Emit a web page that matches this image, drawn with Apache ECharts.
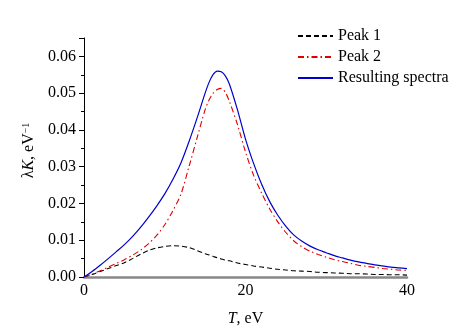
<!DOCTYPE html>
<html>
<head>
<meta charset="utf-8">
<script src="https://cdn.jsdelivr.net/npm/echarts@6/dist/echarts.min.js"></script>
<style>
  html, body { margin: 0; padding: 0; background: #fff; }
  #chart { width: 473px; height: 332px; }
</style>
</head>
<body>
<div id="chart"></div>
<script>
// T, eV
const energy = [0, 1, 2, 3, 4, 5, 6, 7, 8, 9, 10, 11, 12, 13, 14, 15, 15.5, 16, 16.5, 17, 17.5, 18, 19, 20,
  21, 22, 23, 24, 25, 26, 27, 28, 29, 30, 31, 32, 33, 34, 35, 36, 37, 38, 39, 40];
const peak1 = [0, 0.0007, 0.0015, 0.0023, 0.0031, 0.0039, 0.0050, 0.0062, 0.0072, 0.0079, 0.0083,
  0.0085, 0.0084, 0.0080, 0.0072, 0.0063, 0.0060, 0.0056, 0.0052, 0.0049, 0.0046, 0.0044, 0.0038, 0.0034,
  0.0030, 0.0027, 0.0024, 0.0021, 0.0019, 0.0017, 0.0016, 0.0015, 0.0013, 0.0012,
  0.0011, 0.0010, 0.0009, 0.0009, 0.0008, 0.0007, 0.0007, 0.0006, 0.0006, 0.0005];
const peak2 = [0, 0.0008, 0.0017, 0.0027, 0.0037, 0.0047, 0.0059, 0.0073, 0.0091, 0.0113, 0.0142,
  0.0180, 0.0225, 0.0300, 0.0378, 0.0455, 0.0482, 0.0500, 0.0510, 0.0513, 0.0502, 0.0478, 0.0415, 0.0340,
  0.0277, 0.0228, 0.0185, 0.0150, 0.0121, 0.0098, 0.0082, 0.0070, 0.0061, 0.0054,
  0.0047, 0.0042, 0.0037, 0.0032, 0.0029, 0.0026, 0.0023, 0.0021, 0.0019, 0.0018];
const resulting = [0, 0.0015, 0.0032, 0.0050, 0.0069, 0.0088, 0.0110, 0.0135, 0.0163, 0.0193, 0.0226,
  0.0265, 0.0310, 0.0368, 0.0432, 0.0500, 0.0530, 0.0551, 0.0560, 0.0558, 0.0547, 0.0525, 0.0455, 0.0375,
  0.0309, 0.0252, 0.0205, 0.0168, 0.0138, 0.0114, 0.0097, 0.0084, 0.0074, 0.0066,
  0.0058, 0.0052, 0.0046, 0.0041, 0.0037, 0.0033, 0.0030, 0.0027, 0.0025, 0.0023];

const serif = "'Liberation Serif', 'DejaVu Serif', serif";

function pairs(vals) {
  return energy.map((t, i) => [t, vals[i]]);
}

const chart = echarts.init(document.getElementById("chart"));
chart.setOption({
  animation: false,
  textStyle: { fontFamily: serif },
  grid: { left: 84, right: 66, top: 38, bottom: 55 },
  legend: {
    orient: "vertical",
    left: 292,
    top: 23,
    itemWidth: 35,
    itemHeight: 14,
    itemGap: 5,
    itemStyle: { opacity: 0 },
    textStyle: { fontFamily: serif, fontSize: 16, color: "#000" },
    data: ["Peak 1", "Peak 2", "Resulting spectra"]
  },
  xAxis: {
    type: "value",
    min: 0,
    max: 40,
    interval: 20,
    name: "{i|T}, eV",
    nameLocation: "middle",
    nameGap: 34,
    nameTextStyle: {
      fontFamily: serif,
      fontSize: 16,
      color: "#000",
      rich: { i: { fontFamily: serif, fontSize: 16, fontStyle: "italic", color: "#000" } }
    },
    axisLine: { lineStyle: { color: "#888", width: 2.5 } },
    axisTick: { show: false },
    splitLine: { show: false },
    axisLabel: { fontFamily: serif, fontSize: 16, color: "#000", margin: 6 }
  },
  yAxis: {
    type: "value",
    min: 0,
    max: 0.065,
    interval: 0.01,
    name: "{n|λ}{i|K}{n|, eV}{s|−1}",
    nameLocation: "middle",
    nameGap: 47,
    nameTextStyle: {
      padding: [0, 0, 0, 14],
      rich: {
        n: { fontFamily: serif, fontSize: 16, color: "#000" },
        i: { fontFamily: serif, fontSize: 16, fontStyle: "italic", color: "#000" },
        s: { fontFamily: serif, fontSize: 10, color: "#000", verticalAlign: "top" }
      }
    },
    axisLine: { show: true, lineStyle: { color: "#000", width: 1 } },
    axisTick: { show: true, inside: false, length: 5, lineStyle: { color: "#000" } },
    minorTick: { show: true, splitNumber: 2, length: 3, lineStyle: { color: "#000" } },
    splitLine: { show: false },
    axisLabel: {
      fontFamily: serif,
      fontSize: 16,
      color: "#000",
      margin: 8,
      showMaxLabel: false,
      formatter: v => v.toFixed(2)
    }
  },
  series: [
    {
      name: "Peak 1",
      type: "line",
      data: pairs(peak1),
      smooth: 0.3,
      symbol: "none",
      lineStyle: { color: "#000", width: 1.1, type: [5, 3] },
      itemStyle: { color: "#000" }
    },
    {
      name: "Peak 2",
      type: "line",
      data: pairs(peak2),
      smooth: 0.3,
      symbol: "none",
      lineStyle: { color: "#e00000", width: 1.1, type: [6, 3, 1.5, 3] },
      itemStyle: { color: "#e00000" }
    },
    {
      name: "Resulting spectra",
      type: "line",
      data: pairs(resulting),
      smooth: 0.3,
      symbol: "none",
      lineStyle: { color: "#0000cc", width: 1.2 },
      itemStyle: { color: "#0000cc" }
    }
  ]
});
</script>
</body>
</html>
